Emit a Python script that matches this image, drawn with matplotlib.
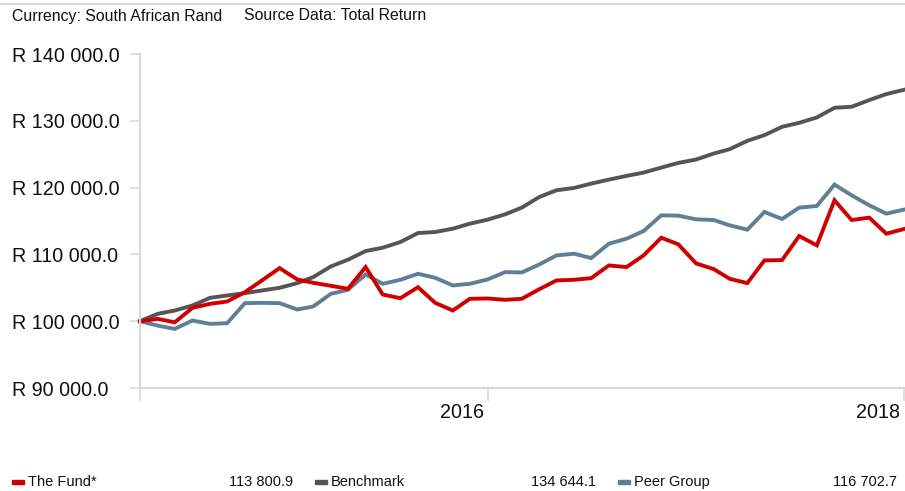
import numpy as np
import pandas as pd
import matplotlib
matplotlib.use("Agg")
import matplotlib.pyplot as plt
import matplotlib.transforms as mtransforms
from matplotlib.patches import Rectangle
from matplotlib.ticker import FuncFormatter

plt.rcParams['font.family'] = ['Liberation Sans', 'DejaVu Sans']

# monthly values, May 2014 - Jan 2018
dates = pd.date_range('2014-05-01', periods=45, freq='MS')

fund = [100000, 100350, 99830, 102000, 102600, 102950, 104340, 106100, 107950, 106250,
        105750, 105300, 104850, 108100, 104000, 103440, 105090, 102750, 101600, 103350,
        103400, 103200, 103350, 104800, 106100, 106200, 106450, 108350, 108100, 109850,
        112500, 111500, 108650, 107800, 106350, 105700, 109100, 109150, 112750, 111350,
        118100, 115150, 115500, 113100, 113800.9]

benchmark = [100000, 101100, 101600, 102350, 103500, 103850, 104200, 104600, 105000, 105700,
             106600, 108200, 109200, 110500, 111000, 111850, 113200, 113350, 113850, 114600,
             115200, 116000, 117000, 118600, 119600, 119950, 120600, 121200, 121750, 122250,
             123000, 123700, 124200, 125100, 125750, 127000, 127850, 129100, 129700, 130500,
             131950, 132100, 133100, 134000, 134644.1]

peer = [100000, 99340, 98850, 100100, 99600, 99700, 102700, 102750, 102700, 101750,
        102200, 104100, 104700, 107000, 105600, 106200, 107100, 106500, 105350, 105600,
        106250, 107350, 107300, 108500, 109850, 110100, 109450, 111600, 112350, 113500,
        115850, 115800, 115250, 115150, 114350, 113700, 116350, 115300, 117000, 117250,
        120450, 118850, 117350, 116100, 116702.7]

series_names = ['The Fund*', 'Benchmark', 'Peer Group']
series_colors = ['#d10000', '#555555', '#5f7f97']
x_tick_dates = ['2014-05-01', '2016-01-01', '2018-01-01']
x_tick_labels = ['', '2016', '2018']
y_ticks = [90000, 100000, 110000, 120000, 130000, 140000]


def rand_fmt(v, pos=None):
    return 'R ' + f"{v:,.1f}".replace(',', ' ')


W, H = 905, 491
fig = plt.figure(figsize=(W / 100, H / 100), dpi=100)
ax = fig.add_axes([140 / W, 1 - 388 / H, 764 / W, (388 - 54) / H])

grey = '#d9d9d9'
for vals, col in zip([benchmark, peer, fund], [series_colors[1], series_colors[2], series_colors[0]]):
    ax.plot(dates, vals, color=col, lw=2.8, solid_joinstyle='miter', clip_on=False)

ax.set_xlim(dates[0], dates[-1])
ax.set_ylim(90000, 140000)
ax.set_yticks(y_ticks)
ax.yaxis.set_major_formatter(FuncFormatter(rand_fmt))
ax.set_xticks(pd.to_datetime(x_tick_dates))
ax.set_xticklabels(x_tick_labels)

for s in ['top', 'right']:
    ax.spines[s].set_visible(False)
for s in ['left', 'bottom']:
    ax.spines[s].set_color(grey)
    ax.spines[s].set_linewidth(1.5)

ax.tick_params(axis='y', length=7, width=1.2, color=grey, pad=85, labelsize=14.2, labelcolor='#111111')
ax.tick_params(axis='x', length=9, width=1.2, color=grey, pad=2, labelsize=14.2, labelcolor='#111111')
for lab in ax.get_yticklabels():
    lab.set_horizontalalignment('left')
shift = mtransforms.ScaledTranslation(-4 / 100, 0, fig.dpi_scale_trans)
for lab in ax.get_xticklabels():
    lab.set_horizontalalignment('right')
    lab.set_transform(lab.get_transform() + shift)

# header
fig.add_artist(plt.Line2D([0, 1], [1 - 4 / H, 1 - 4 / H], color=grey, lw=1.5))
fig.text(12 / W, 1 - 16 / H, 'Currency: South African Rand', fontsize=11.4, va='center', color='#111111')
fig.text(244 / W, 1 - 16 / H, 'Source Data: Total Return', fontsize=11.4, va='center', color='#111111')

# legend row
leg_x = [12, 315, 618]
val_x = [293, 596, 897]
y_leg = 1 - 482 / H
for name, col, vals, lx, vx in zip(series_names, series_colors, [fund, benchmark, peer], leg_x, val_x):
    fig.add_artist(Rectangle((lx / W, y_leg - 2 / H), 12 / W, 4 / H, color=col, transform=fig.transFigure))
    fig.text((lx + 16) / W, y_leg, name, fontsize=10.5, va='center', color='#111111')
    fig.text(vx / W, y_leg, rand_fmt(vals[-1])[2:], fontsize=10.5, va='center', ha='right', color='#111111')

fig.savefig('out.png', dpi=100)
